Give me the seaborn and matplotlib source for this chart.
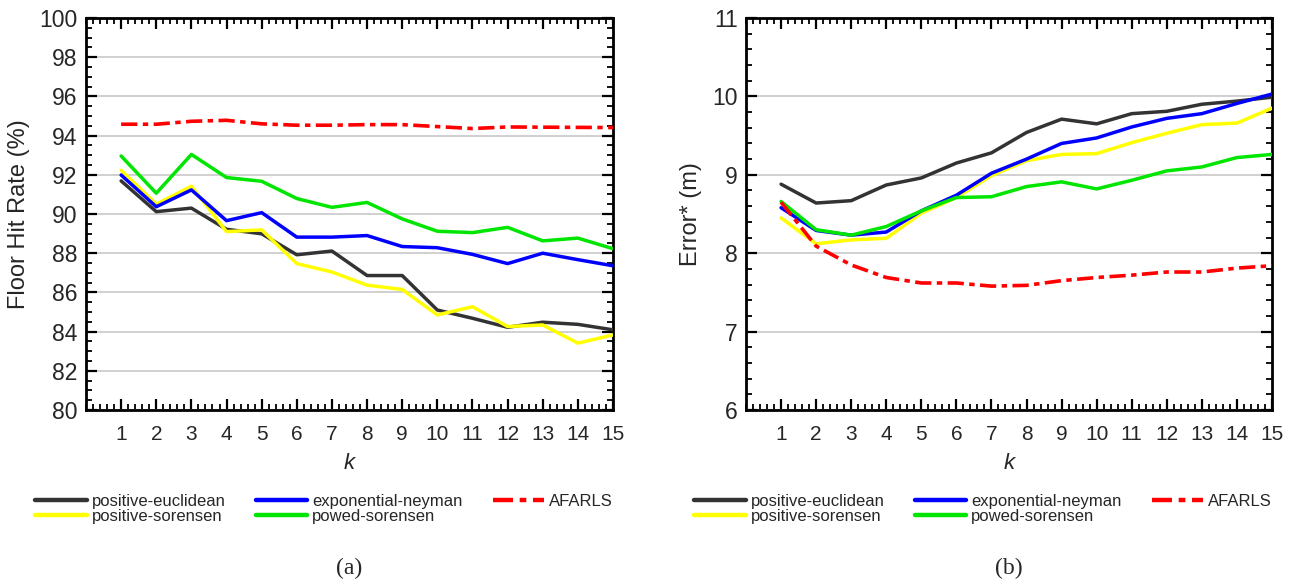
import matplotlib
matplotlib.use("Agg")
import matplotlib.pyplot as plt
from matplotlib.ticker import MultipleLocator
import seaborn as sns
import pandas as pd

k = list(range(1, 16))
series_names = ["positive-euclidean", "positive-sorensen", "exponential-neyman",
                "powed-sorensen", "AFARLS"]

# Panel (a): Floor Hit Rate (%)
hit_pos_euclid = [91.69, 90.12, 90.30, 89.22, 88.99, 87.92, 88.11, 86.86, 86.86, 85.10, 84.68, 84.22, 84.48, 84.37, 84.09]
hit_pos_soren = [92.23, 90.50, 91.42, 89.10, 89.19, 87.47, 87.04, 86.37, 86.15, 84.85, 85.27, 84.26, 84.34, 83.41, 83.83]
hit_exp_neyman = [91.99, 90.37, 91.23, 89.66, 90.07, 88.82, 88.82, 88.90, 88.34, 88.28, 87.94, 87.47, 88.00, 87.67, 87.36]
hit_powed_soren = [92.96, 91.06, 93.04, 91.86, 91.67, 90.79, 90.34, 90.59, 89.75, 89.12, 89.05, 89.32, 88.63, 88.77, 88.23]
hit_afarls = [94.58, 94.58, 94.73, 94.78, 94.60, 94.53, 94.53, 94.56, 94.56, 94.46, 94.36, 94.44, 94.43, 94.42, 94.41]

# Panel (b): Error* (m)
err_pos_euclid = [8.88, 8.64, 8.67, 8.87, 8.96, 9.15, 9.28, 9.54, 9.71, 9.65, 9.78, 9.81, 9.90, 9.94, 9.99]
err_pos_soren = [8.45, 8.12, 8.17, 8.19, 8.51, 8.71, 8.99, 9.18, 9.26, 9.27, 9.41, 9.53, 9.64, 9.66, 9.85]
err_exp_neyman = [8.58, 8.29, 8.23, 8.27, 8.54, 8.74, 9.02, 9.20, 9.40, 9.47, 9.61, 9.72, 9.78, 9.91, 10.03]
err_powed_soren = [8.66, 8.30, 8.23, 8.34, 8.54, 8.71, 8.72, 8.85, 8.91, 8.82, 8.93, 9.05, 9.10, 9.22, 9.26]
err_afarls = [8.65, 8.09, 7.85, 7.69, 7.62, 7.62, 7.58, 7.59, 7.65, 7.69, 7.72, 7.76, 7.76, 7.81, 7.84]

colors = ["#333333", "#ffff00", "#0000ff", "#00e600", "#ff0000"]

sns.set_style("white")
plt.rcParams["font.family"] = ["Liberation Sans", "DejaVu Sans"]

fig = plt.figure(figsize=(12.94, 5.84), dpi=100)
ax_a = fig.add_axes([86 / 1294, 1 - 410 / 584, 527 / 1294, 392 / 584])
ax_b = fig.add_axes([746 / 1294, 1 - 410 / 584, 526 / 1294, 392 / 584])

panels = [
    (ax_a, [hit_pos_euclid, hit_pos_soren, hit_exp_neyman, hit_powed_soren, hit_afarls],
     (80, 100), 2, 0.5, "Floor Hit Rate (%)", "(a)"),
    (ax_b, [err_pos_euclid, err_pos_soren, err_exp_neyman, err_powed_soren, err_afarls],
     (6, 11), 1, 0.2, "Error* (m)", "(b)"),
]

for ax, data, ylim, ymaj, ymin, ylabel, cap in panels:
    for name, vals, col in zip(series_names, data, colors):
        df = pd.DataFrame({"k": k, "v": vals})
        if name == "AFARLS":
            sns.lineplot(data=df, x="k", y="v", ax=ax, color=col, linewidth=2.6,
                         label=name, zorder=4)
            ax.lines[-1].set_dashes([4.5, 1.5, 1.5, 1.5])
        else:
            sns.lineplot(data=df, x="k", y="v", ax=ax, color=col, linewidth=2.5,
                         label=name, zorder=3)
    ax.set_xlim(0, 15)
    ax.set_ylim(*ylim)
    ax.xaxis.set_major_locator(MultipleLocator(1))
    ax.xaxis.set_minor_locator(MultipleLocator(0.2))
    ax.yaxis.set_major_locator(MultipleLocator(ymaj))
    ax.yaxis.set_minor_locator(MultipleLocator(ymin))
    ax.set_xticks(k)
    ax.set_xticklabels([str(v) for v in k])
    ax.grid(axis="y", which="major", color="#d0d0d0", linewidth=1.4, zorder=0)
    ax.grid(axis="x", visible=False)
    ax.set_axisbelow(True)
    for sp in ax.spines.values():
        sp.set_visible(True)
        sp.set_color("black")
        sp.set_linewidth(2.0)
    ax.tick_params(which="both", direction="in", top=True, right=True,
                   bottom=True, left=True, color="black")
    ax.tick_params(which="major", length=8, width=1.6)
    ax.tick_params(which="minor", length=4, width=1.3)
    ax.tick_params(axis="x", which="major", labelsize=15, pad=11)
    ax.tick_params(axis="y", which="major", labelsize=16.5, pad=6)
    ax.set_xlabel("k", fontsize=16, fontstyle="italic", labelpad=6)
    ax.set_ylabel(ylabel, fontsize=17, labelpad=7)
    h, l = ax.get_legend_handles_labels()
    leg = ax.legend(h, l, ncol=3, loc="upper right", bbox_to_anchor=(1.0, -0.215),
                    frameon=False, fontsize=12, handlelength=3.1, handletextpad=0.3,
                    columnspacing=1.8, labelspacing=0.0, borderpad=0, borderaxespad=0)
    for ln in leg.get_lines():
        ln.set_linewidth(3.2)
    bb = ax.get_position()
    fig.text(bb.x0 + bb.width / 2, 1 - 568 / 584, cap, ha="center", va="center",
             fontsize=17, family=["Liberation Serif", "DejaVu Serif"])

fig.savefig("out.png", dpi=100)
